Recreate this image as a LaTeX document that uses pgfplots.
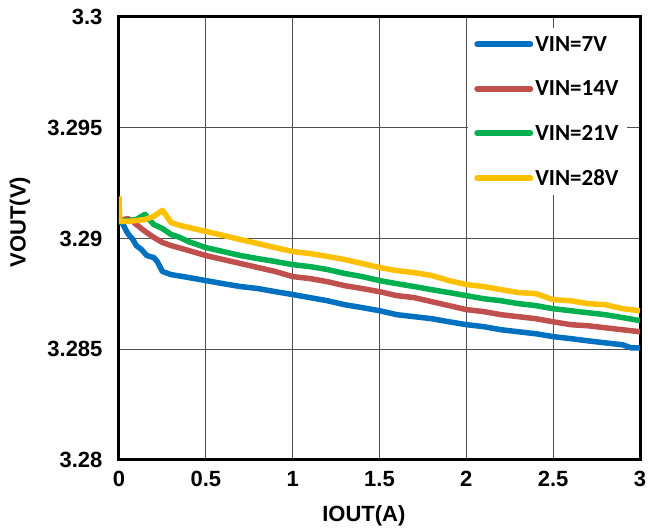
\documentclass[border=0pt]{standalone}
\usepackage{fontspec}
\setmainfont{Liberation Sans}
\newfontfamily\carlito{Carlito}
\usepackage{pgfplots}
\pgfplotsset{compat=1.18}
\definecolor{cblue}{HTML}{0070C0}
\definecolor{cred}{HTML}{C0504D}
\definecolor{cgreen}{HTML}{00B050}
\definecolor{cyellow}{HTML}{FFC000}
\definecolor{cgrid}{HTML}{505050}
\begin{document}
\begin{tikzpicture}
\useasboundingbox (-119pt,-70pt) rectangle (529pt,460pt);
\begin{axis}[
  scale only axis,
  width=521pt, height=443pt,
  xmin=0, xmax=3, ymin=3.28, ymax=3.3,
  xtick={0,0.5,1,1.5,2,2.5,3},
  xticklabels={0,0.5,1,1.5,2,2.5,3},
  ytick={3.28,3.285,3.29,3.295,3.3},
  yticklabels={3.28,3.285,3.29,3.295,3.3},
  major tick length=0pt,
  grid=major,
  major grid style={cgrid, line width=1.2pt},
  axis line style={black, line width=3pt},
  tick label style={font=\fontsize{22}{26}\selectfont\bfseries},
  yticklabel style={xshift=-13pt},
  xticklabel style={yshift=-8pt},
  xlabel={IOUT(A)}, ylabel={VOUT(V)},
  label style={font=\fontsize{22}{26}\selectfont\bfseries},
  xlabel style={at={(axis description cs:0.47,-0.126)}, anchor=center},
  ylabel style={at={(axis description cs:-0.19,0.537)}, anchor=center},
  legend style={at={(axis description cs:0.67,0.975)}, anchor=north west, draw=none, fill=white,
    font=\carlito\fontsize{23}{27}\selectfont\bfseries, row sep=24pt, inner xsep=6pt, inner ysep=6pt},
  legend cell align=left,
  legend image code/.code={\draw[#1, line width=6pt, line cap=round] (0pt,0pt) -- (53pt,0pt);},
  every axis plot/.append style={line width=5.5pt, line join=round},
]
\addplot[cblue] coordinates {(0,3.29077)(0.02,3.29068)(0.05,3.29023)(0.08,3.28995)(0.1,3.28968)(0.13,3.28950)(0.16,3.28923)(0.2,3.28914)(0.22,3.28896)(0.25,3.28851)(0.3,3.28837)(0.4,3.28824)(0.5,3.28810)(0.6,3.28796)(0.7,3.28783)(0.8,3.28774)(0.9,3.28760)(1.0,3.28747)(1.1,3.28733)(1.2,3.28719)(1.3,3.28701)(1.4,3.28688)(1.5,3.28674)(1.6,3.28656)(1.7,3.28647)(1.8,3.28638)(1.9,3.28624)(2.0,3.28611)(2.1,3.28602)(2.2,3.28588)(2.3,3.28579)(2.4,3.28570)(2.5,3.28557)(2.6,3.28548)(2.7,3.28538)(2.8,3.28529)(2.9,3.28520)(2.95,3.28506)(3.0,3.28506)};
\addlegendentry{VIN=7V}
\addplot[cred] coordinates {(0,3.29077)(0.03,3.29086)(0.05,3.29090)(0.08,3.29077)(0.1,3.29063)(0.15,3.29032)(0.2,3.29005)(0.25,3.28982)(0.3,3.28968)(0.4,3.28946)(0.5,3.28923)(0.6,3.28905)(0.7,3.28887)(0.8,3.28869)(0.9,3.28851)(1.0,3.28828)(1.1,3.28819)(1.2,3.28805)(1.3,3.28787)(1.4,3.28774)(1.5,3.28760)(1.6,3.28742)(1.7,3.28733)(1.8,3.28715)(1.9,3.28697)(2.0,3.28679)(2.1,3.28670)(2.2,3.28656)(2.3,3.28647)(2.4,3.28638)(2.5,3.28624)(2.6,3.28611)(2.7,3.28606)(2.8,3.28597)(2.9,3.28588)(3.0,3.28579)};
\addlegendentry{VIN=14V}
\addplot[cgreen] coordinates {(0,3.29077)(0.05,3.29081)(0.1,3.29086)(0.13,3.29100)(0.15,3.29109)(0.17,3.29090)(0.2,3.29063)(0.25,3.29045)(0.3,3.29018)(0.35,3.29005)(0.4,3.28986)(0.5,3.28959)(0.6,3.28941)(0.7,3.28923)(0.8,3.28909)(0.9,3.28896)(1.0,3.28882)(1.1,3.28873)(1.2,3.28860)(1.3,3.28842)(1.4,3.28828)(1.5,3.28810)(1.6,3.28796)(1.7,3.28783)(1.8,3.28769)(1.9,3.28756)(2.0,3.28742)(2.1,3.28728)(2.2,3.28719)(2.3,3.28706)(2.4,3.28697)(2.5,3.28683)(2.6,3.28674)(2.7,3.28665)(2.8,3.28656)(2.9,3.28643)(3.0,3.28629)};
\addlegendentry{VIN=21V}
\addplot[cyellow] coordinates {(0,3.29190)(0.005,3.29077)(0.05,3.29077)(0.1,3.29081)(0.15,3.29086)(0.2,3.29100)(0.25,3.29127)(0.28,3.29095)(0.3,3.29072)(0.35,3.29059)(0.4,3.29050)(0.5,3.29032)(0.6,3.29014)(0.7,3.28995)(0.8,3.28977)(0.9,3.28959)(1.0,3.28941)(1.1,3.28932)(1.2,3.28919)(1.3,3.28905)(1.4,3.28887)(1.5,3.28869)(1.6,3.28855)(1.7,3.28846)(1.8,3.28833)(1.9,3.28810)(2.0,3.28792)(2.1,3.28783)(2.2,3.28769)(2.3,3.28756)(2.4,3.28751)(2.5,3.28724)(2.6,3.28719)(2.7,3.28706)(2.8,3.28701)(2.9,3.28683)(3.0,3.28674)};
\addlegendentry{VIN=28V}
\end{axis}
\end{tikzpicture}
\end{document}
